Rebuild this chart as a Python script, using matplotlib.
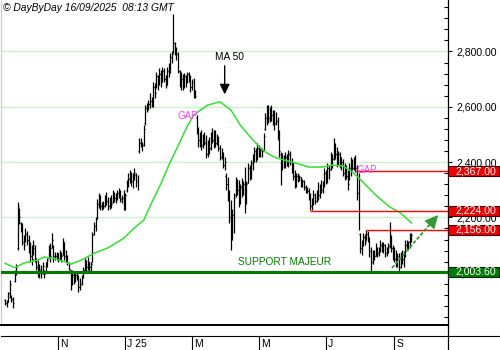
import matplotlib
matplotlib.use("Agg")
import matplotlib.pyplot as plt
import matplotlib.transforms as mtransforms
from matplotlib.patches import Rectangle
from matplotlib.lines import Line2D
from matplotlib.ticker import MultipleLocator, FuncFormatter
import numpy as np
import pandas as pd

plt.rcParams['font.family'] = ['Liberation Sans', 'DejaVu Sans']

# Cours journaliers (O, H, B, C) du 16/09/2024 au 16/09/2025
opens = [
    1900, 1890, 1895, 1925, 1915, 1905, 1970, 2000, 2090, 2230,
    2180, 2160, 2110, 2110, 2140, 2120, 2080, 2060, 2070, 2090,
    2050, 2020, 2000, 2010, 2000, 2000, 2005, 2030, 2055, 2090,
    2090, 2100, 2060, 2060, 2065, 2050, 2070, 2065, 2100, 2060,
    2050, 2035, 2010, 1960, 1990, 1975, 1990, 1985, 1950, 1960,
    1985, 2010, 2030, 2020, 2040, 2020, 2040, 2140, 2170, 2195,
    2250, 2260, 2240, 2250, 2240, 2270, 2260, 2240, 2265, 2255,
    2290, 2270, 2280, 2290, 2280, 2265, 2270, 2235, 2300, 2320,
    2340, 2350, 2330, 2345, 2355, 2330, 2440, 2470, 2465, 2460,
    2540, 2595, 2600, 2610, 2620, 2615, 2670, 2670, 2710, 2690,
    2720, 2695, 2730, 2700, 2680, 2730, 2740, 2780, 2795, 2830,
    2810, 2790, 2730, 2690, 2700, 2680, 2710, 2690, 2720, 2700,
    2670, 2690, 2645, 2560, 2520, 2480, 2500, 2460, 2490, 2470,
    2430, 2470, 2450, 2500, 2480, 2500, 2470, 2490, 2450, 2420,
    2430, 2390, 2350, 2320, 2280, 2200, 2150, 2210, 2280, 2330,
    2300, 2260, 2310, 2290, 2320, 2260, 2325, 2380, 2350, 2395,
    2420, 2440, 2410, 2450, 2430, 2445, 2440, 2520, 2560, 2590,
    2560, 2590, 2570, 2560, 2540, 2550, 2500, 2430, 2380, 2410,
    2400, 2420, 2395, 2430, 2400, 2380, 2350, 2330, 2350, 2340,
    2345, 2320, 2330, 2310, 2300, 2295, 2270, 2240, 2250, 2280,
    2260, 2290, 2280, 2310, 2300, 2320, 2360, 2340, 2380, 2375,
    2420, 2410, 2460, 2430, 2400, 2430, 2390, 2400, 2360, 2380,
    2350, 2340, 2380, 2400, 2380, 2410, 2380, 2290, 2140, 2090,
    2100, 2130, 2120, 2140, 2120, 2080, 2040, 2070, 2060, 2090,
    2070, 2085, 2100, 2090, 2100, 2070, 2085, 2095, 2120, 2090,
    2060, 2050, 2040, 2050, 2020, 2060, 2050, 2070, 2100, 2090,
    2110, 2130,
]
highs = [
    1905, 1900, 1930, 1973, 1920, 1913, 2010, 2030, 2257, 2233,
    2185, 2180, 2136, 2160, 2150, 2136, 2112, 2100, 2118, 2100,
    2052, 2045, 2030, 2028, 2040, 2010, 2040, 2052, 2100, 2106,
    2142, 2100, 2075, 2076, 2070, 2082, 2076, 2124, 2110, 2082,
    2064, 2040, 2010, 2010, 2000, 2004, 2004, 1992, 1980, 1990,
    2022, 2052, 2046, 2058, 2040, 2040, 2148, 2185, 2200, 2265,
    2290, 2280, 2257, 2260, 2281, 2293, 2275, 2275, 2281, 2299,
    2293, 2287, 2299, 2305, 2300, 2281, 2299, 2287, 2335, 2359,
    2371, 2365, 2359, 2377, 2359, 2353, 2486, 2486, 2474, 2534,
    2606, 2612, 2624, 2649, 2636, 2691, 2685, 2727, 2715, 2739,
    2733, 2745, 2740, 2715, 2745, 2757, 2793, 2800, 2936, 2835,
    2815, 2799, 2733, 2727, 2720, 2721, 2715, 2727, 2725, 2715,
    2700, 2703, 2660, 2570, 2528, 2510, 2516, 2500, 2510, 2498,
    2480, 2490, 2510, 2522, 2515, 2516, 2500, 2495, 2462, 2450,
    2435, 2420, 2359, 2347, 2300, 2263, 2230, 2287, 2347, 2340,
    2335, 2320, 2341, 2330, 2384, 2330, 2396, 2390, 2408, 2430,
    2456, 2450, 2468, 2460, 2456, 2450, 2504, 2576, 2607, 2607,
    2600, 2607, 2590, 2588, 2582, 2564, 2516, 2438, 2432, 2425,
    2438, 2430, 2444, 2440, 2414, 2400, 2371, 2360, 2359, 2355,
    2347, 2340, 2335, 2317, 2310, 2305, 2287, 2270, 2299, 2290,
    2300, 2329, 2320, 2335, 2330, 2377, 2370, 2396, 2390, 2438,
    2430, 2486, 2470, 2456, 2440, 2435, 2420, 2410, 2396, 2390,
    2371, 2396, 2420, 2410, 2420, 2426, 2390, 2360, 2142, 2118,
    2142, 2140, 2154, 2150, 2130, 2094, 2082, 2082, 2106, 2094,
    2094, 2118, 2110, 2112, 2105, 2094, 2106, 2184, 2136, 2100,
    2094, 2082, 2070, 2070, 2076, 2082, 2080, 2118, 2118, 2115,
    2142, 2142,
]
lows = [
    1883, 1877, 1893, 1907, 1895, 1871, 1965, 1990, 2082, 2175,
    2148, 2100, 2082, 2110, 2100, 2070, 2040, 2028, 2064, 2040,
    2010, 1985, 1980, 1980, 1995, 1980, 2004, 2020, 2052, 2040,
    2088, 2040, 2046, 2046, 2040, 2046, 2040, 2064, 2046, 2040,
    2028, 2010, 1937, 1955, 1960, 1967, 1975, 1931, 1937, 1955,
    1980, 2004, 2004, 2010, 2004, 2004, 2040, 2136, 2150, 2195,
    2235, 2227, 2227, 2230, 2239, 2245, 2227, 2230, 2233, 2251,
    2257, 2251, 2263, 2269, 2257, 2251, 2227, 2227, 2293, 2311,
    2323, 2315, 2305, 2335, 2311, 2299, 2432, 2456, 2440, 2458,
    2534, 2582, 2588, 2594, 2600, 2600, 2630, 2667, 2661, 2679,
    2673, 2691, 2690, 2667, 2679, 2709, 2721, 2760, 2793, 2787,
    2769, 2721, 2673, 2661, 2661, 2667, 2670, 2685, 2690, 2655,
    2660, 2631, 2631, 2500, 2456, 2456, 2444, 2450, 2460, 2414,
    2420, 2430, 2444, 2470, 2450, 2456, 2460, 2440, 2408, 2410,
    2380, 2371, 2299, 2260, 2179, 2082, 2120, 2142, 2275, 2280,
    2239, 2250, 2275, 2280, 2215, 2250, 2323, 2335, 2340, 2371,
    2400, 2400, 2408, 2420, 2420, 2420, 2440, 2516, 2534, 2540,
    2546, 2550, 2534, 2516, 2534, 2480, 2420, 2317, 2371, 2380,
    2377, 2385, 2384, 2390, 2360, 2335, 2305, 2310, 2329, 2330,
    2311, 2311, 2300, 2287, 2287, 2263, 2227, 2227, 2245, 2250,
    2255, 2263, 2270, 2287, 2290, 2311, 2320, 2323, 2340, 2371,
    2380, 2408, 2410, 2383, 2390, 2380, 2371, 2350, 2335, 2340,
    2299, 2335, 2350, 2371, 2371, 2365, 2263, 2154, 2070, 2064,
    2095, 2100, 2118, 2110, 2058, 2004, 2030, 2046, 2060, 2058,
    2060, 2076, 2076, 2070, 2058, 2060, 2070, 2090, 2076, 2046,
    2040, 2022, 2022, 1998, 2016, 2030, 2022, 2058, 2082, 2082,
    2088, 2110,
]
closes = [
    1890, 1895, 1925, 1960, 1905, 1890, 2000, 2020, 2240, 2200,
    2160, 2110, 2100, 2140, 2120, 2080, 2060, 2050, 2100, 2050,
    2020, 2000, 2010, 2000, 2025, 1995, 2030, 2045, 2090, 2060,
    2120, 2060, 2060, 2070, 2050, 2070, 2060, 2110, 2060, 2050,
    2035, 2015, 1960, 1990, 1975, 1990, 1985, 1950, 1960, 1985,
    2010, 2030, 2020, 2040, 2020, 2030, 2135, 2170, 2190, 2250,
    2260, 2240, 2250, 2240, 2270, 2260, 2240, 2265, 2250, 2290,
    2270, 2280, 2290, 2280, 2265, 2270, 2235, 2280, 2320, 2340,
    2350, 2330, 2345, 2360, 2330, 2320, 2470, 2465, 2460, 2520,
    2595, 2600, 2610, 2620, 2615, 2670, 2650, 2710, 2690, 2720,
    2690, 2730, 2700, 2680, 2730, 2740, 2780, 2790, 2830, 2810,
    2790, 2730, 2690, 2700, 2680, 2710, 2690, 2720, 2700, 2670,
    2690, 2645, 2640, 2520, 2480, 2500, 2460, 2490, 2470, 2430,
    2470, 2450, 2500, 2480, 2500, 2470, 2490, 2450, 2420, 2430,
    2390, 2400, 2320, 2280, 2200, 2150, 2210, 2270, 2330, 2300,
    2260, 2310, 2290, 2320, 2260, 2320, 2380, 2350, 2395, 2420,
    2440, 2410, 2450, 2430, 2445, 2440, 2495, 2560, 2590, 2560,
    2590, 2570, 2560, 2540, 2550, 2500, 2440, 2380, 2410, 2400,
    2420, 2395, 2430, 2400, 2380, 2350, 2330, 2350, 2340, 2345,
    2320, 2330, 2310, 2300, 2295, 2270, 2240, 2250, 2280, 2260,
    2290, 2280, 2310, 2300, 2320, 2360, 2340, 2380, 2370, 2420,
    2410, 2460, 2430, 2400, 2430, 2390, 2400, 2360, 2380, 2350,
    2320, 2380, 2400, 2380, 2410, 2380, 2290, 2170, 2090, 2100,
    2130, 2110, 2140, 2120, 2080, 2040, 2070, 2060, 2090, 2070,
    2085, 2100, 2090, 2100, 2070, 2085, 2095, 2120, 2090, 2060,
    2050, 2040, 2060, 2020, 2060, 2050, 2070, 2100, 2090, 2110,
    2130, 2135,
]

# moyenne mobile 50 jours (par séance)
ma_idx = [0, 6, 12, 21, 25, 31, 38, 42, 49, 57, 66, 76, 83, 89, 94, 100,
          106, 112, 116, 121, 130, 138, 145, 151, 158, 164, 168, 174, 187,
          195, 204, 210, 217, 223, 228, 238, 247, 254, 261]
ma_vals = [2034, 2018, 2035, 2046, 2057, 2052, 2040, 2031, 2046, 2070, 2090,
           2124, 2162, 2190, 2252, 2322, 2400, 2470, 2519, 2570, 2606, 2618,
           2588, 2534, 2487, 2451, 2433, 2415, 2396, 2382, 2382, 2389, 2386,
           2364, 2338, 2281, 2238, 2216, 2180]

support = 2003.60
resistances = [2367.00, 2224.00, 2156.00]
res_start = [225, 196, 232]
gap_idx = [111, 226]
gap_vals = [2567, 2373]
month_keys = ['2024-11', '2025-01', '2025-03', '2025-05', '2025-07', '2025-09']
month_labels = ['N', 'J 25', 'M', 'M', 'J', 'S']

dates = pd.bdate_range('2024-09-16', periods=len(closes))
idx = np.arange(len(closes))
x0, x1 = -2.73, 284.3

fig = plt.figure(figsize=(5, 3.5), dpi=100)
ax = fig.add_axes([1 / 500, 25 / 350, 446.7 / 500, 325 / 350])
ax.set_xlim(x0, x1)
ax.set_ylim(1811, 2986)

# barres OHLC
ax.vlines(idx, lows, highs, color='black', lw=0.9, zorder=3)
ax.hlines(opens, idx - 0.6, idx, color='black', lw=0.9, zorder=3)
ax.hlines(closes, idx, idx + 0.6, color='black', lw=0.9, zorder=3)

ax.plot(ma_idx, ma_vals, color='#33e033', lw=1.1, zorder=4)

ax.axhline(support, color='#007a00', lw=2.2, zorder=4)
for val, st in zip(resistances, res_start):
    ax.hlines(val, st, x1, color='#ff0000', lw=1.0, zorder=4)

# axe des prix à droite
ax.yaxis.tick_right()
ax.yaxis.set_major_locator(MultipleLocator(200))
ax.yaxis.set_minor_locator(MultipleLocator(40))
ax.yaxis.set_major_formatter(FuncFormatter(lambda v, p: f'{v:,.2f}'))
ax.tick_params(axis='y', which='major', direction='out', length=3, width=0.8,
               pad=3, labelsize=7.6, right=True, left=False)
ax.tick_params(axis='y', which='minor', direction='in', length=2.7, width=0.8,
               right=True, left=False)
ax.set_xticks([])
ax.grid(axis='y', which='major', color='#ccf2cc', lw=1.0)
ax.set_axisbelow(True)
ax.spines['top'].set_visible(False)
ax.spines['left'].set_color('#cccccc')
ax.spines['bottom'].set_linewidth(1.4)
ax.spines['right'].set_linewidth(0.9)

trans = mtransforms.blended_transform_factory(ax.transAxes, ax.transData)
boxes = [(2367.00, '#ee0000', '#440000'), (2224.00, '#ee0000', '#440000'),
         (2156.00, '#ee0000', '#440000'), (support, '#007a00', '#002200')]
for val, fc, ec in boxes:
    ax.add_patch(Rectangle((1.0, val - 18), 0.1155, 36, transform=trans,
                           clip_on=False, facecolor=fc, edgecolor=ec,
                           lw=0.8, zorder=6))
    ax.text(1.0174, val, f'{val:,.2f}', transform=trans, color='white',
            va='center', ha='left', fontsize=7.6, zorder=7, clip_on=False)

# annotations
ax.text(0.0045, 0.99, '© DayByDay 16/09/2025  08:13 GMT',
        transform=ax.transAxes, style='italic', fontsize=7.4,
        va='top', ha='left')
for gi, gv in zip(gap_idx, gap_vals):
    ax.text(gi, gv, 'GAP', color='#ff44ff', fontsize=7, va='center', ha='left',
            zorder=5)
ax.annotate('', xy=(141, 2635), xytext=(141, 2758),
            arrowprops=dict(arrowstyle='-|>', color='black', lw=1,
                            mutation_scale=15))
ax.text(135, 2762, 'MA 50', fontsize=7.3, va='bottom', ha='left')
ax.text(149.6, 2039, 'SUPPORT MAJEUR', color='#008000', fontsize=7.3,
        va='center', ha='left')
ax.plot([248.5, 275.5], [2017, 2192], color='#339933', lw=1.3,
        ls=(0, (2, 1)), zorder=5)
ax.annotate('', xy=(279.3, 2216), xytext=(272.5, 2172),
            arrowprops=dict(arrowstyle='-|>', color='#339933', lw=1,
                            mutation_scale=20), zorder=5)

# bande des dates
dax = fig.add_axes([1 / 500, 0, 446.7 / 500, 14 / 350])
dax.set_xlim(x0, x1)
dax.set_ylim(0, 1)
months = np.array(dates.strftime('%Y-%m'))
for key, lab in zip(month_keys, month_labels):
    pos = int(np.argmax(months == key))
    dax.vlines(pos, 0, 1, color='black', lw=0.8)
    dax.text(pos + 1.3, 0.45, lab, fontsize=7.5, va='center', ha='left')
dax.set_xticks([])
dax.set_yticks([])
for s in ['left', 'bottom']:
    dax.spines[s].set_visible(False)
dax.spines['top'].set_linewidth(0.8)
dax.spines['right'].set_linewidth(0.9)

fig.add_artist(Line2D([447.7 / 500] * 2, [14 / 350, 25 / 350],
                      transform=fig.transFigure, color='black', lw=0.9))
fig.add_artist(Line2D([447.7 / 500, 1], [14 / 350] * 2,
                      transform=fig.transFigure, color='black', lw=0.8))

fig.savefig('out.png', dpi=100)
